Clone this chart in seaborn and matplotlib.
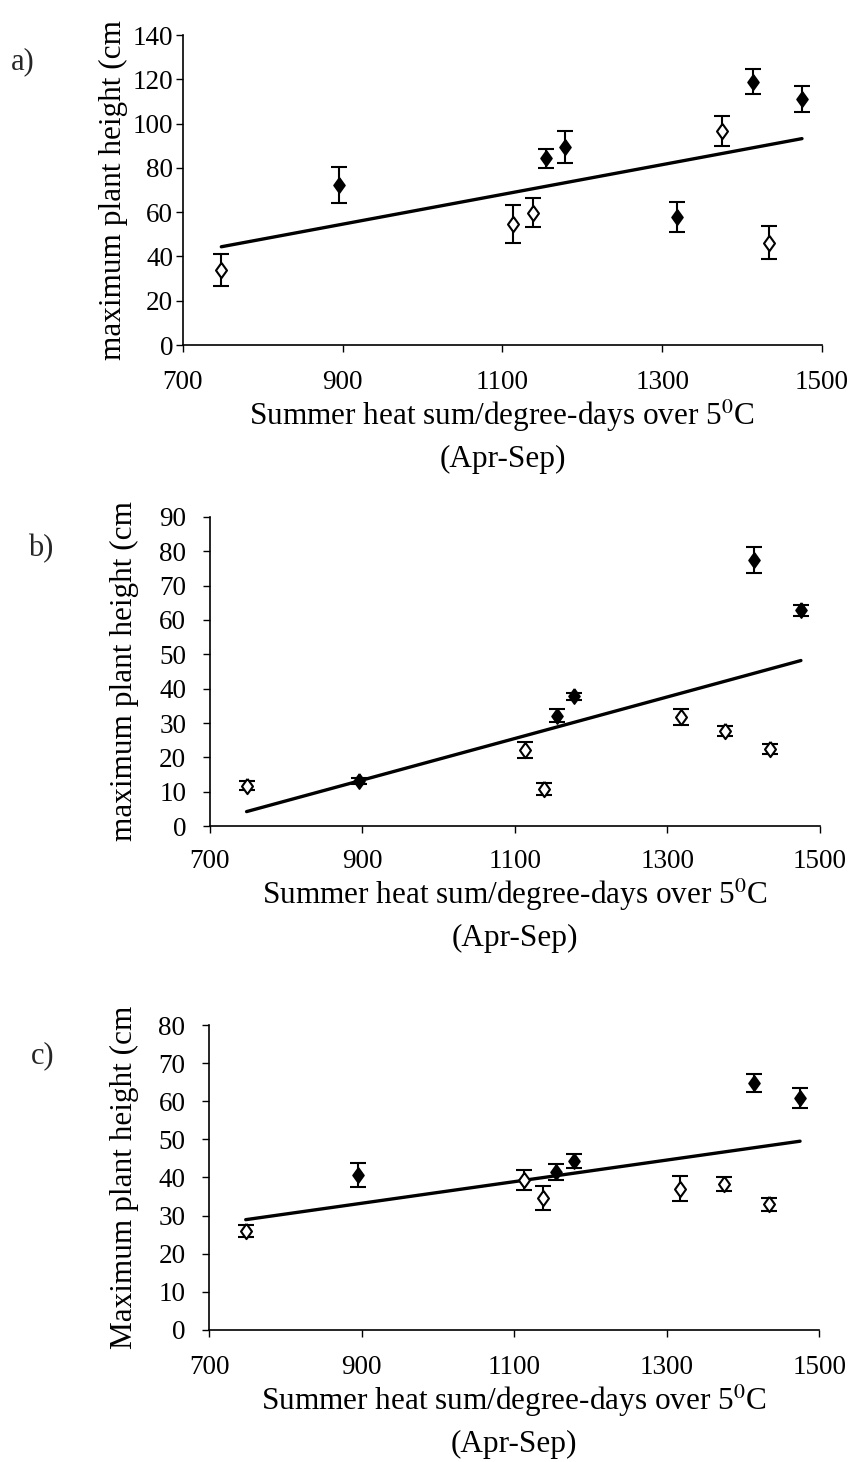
import numpy as np
import pandas as pd
import matplotlib
matplotlib.use("Agg")
import matplotlib.pyplot as plt
import seaborn as sns

# heat sum (degree-days over 5 C, Apr-Sep) of the sites
heat = [748, 895, 1113, 1138, 1155, 1178, 1318, 1375, 1414, 1434, 1475]

# a) maximum plant height (cm), mean and error
a_height = [33.9, 72.3, 54.6, 59.8, 84.3, 89.6, 57.7, 96.8, 118.9, 46.2, 111.1]
a_err = [7.2, 8.0, 8.7, 6.5, 4.4, 7.3, 6.8, 6.8, 5.7, 7.5, 5.8]
a_filled = [0, 1, 0, 0, 1, 1, 1, 0, 1, 0, 1]

# b)
b_height = [11.7, 13.1, 22.1, 10.7, 32.1, 37.8, 31.8, 27.7, 77.5, 22.4, 62.8]
b_err = [1.3, 0.8, 2.4, 1.8, 1.9, 1.0, 2.3, 1.5, 3.7, 1.4, 1.6]
b_filled = [0, 1, 0, 0, 1, 1, 0, 0, 1, 0, 1]

# c)
c_height = [26.0, 40.6, 39.3, 34.7, 41.4, 44.3, 37.1, 38.2, 64.8, 33.0, 60.9]
c_err = [1.5, 3.1, 2.7, 3.2, 2.1, 1.9, 3.3, 1.8, 2.3, 1.7, 2.6]
c_filled = [0, 1, 0, 0, 1, 1, 0, 0, 1, 0, 1]

sns.set_theme(style="ticks")
plt.rcParams["font.family"] = ["Liberation Serif", "DejaVu Serif"]
plt.rcParams["mathtext.fontset"] = "stix"

# excel-like diamond, a bit taller than wide
diamond = [(0, 1), (0.72, 0), (0, -1), (-0.72, 0), (0, 1)]

fig = plt.figure(figsize=(8.57, 14.62), dpi=100)

# letter, data, y range, y label, axes box, letter pos, x pad, y pad, ylabel x
panels = [
    ("a)", a_height, a_err, a_filled, 140, 20, "maximum plant height (cm",
     [0.2135, 0.764, 0.7456, 0.212], (0.026, 0.958), 12.7, 2, -0.086),
    ("b)", b_height, b_err, b_filled, 90, 10, "maximum plant height (cm",
     [0.245, 0.435, 0.7118, 0.2114], (0.048, 0.625), 11.2, 12, -0.116),
    ("c)", c_height, c_err, c_filled, 80, 10, "Maximum plant height (cm",
     [0.244, 0.0903, 0.7118, 0.2086], (0.050, 0.278), 12.7, 12, -0.115),
]

for letter, h, err, filled, ymax, ystep, ylab, pos, lpos, xpad, ypad, ylx in panels:
    ax = fig.add_axes(pos)
    df = pd.DataFrame({"heat": heat, "height": h, "err": err, "filled": filled})

    sns.regplot(data=df, x="heat", y="height", ax=ax, scatter=False, ci=None,
                color="black", line_kws={"lw": 2.4, "zorder": 2})
    ax.errorbar(df["heat"], df["height"], yerr=df["err"], fmt="none",
                ecolor="black", elinewidth=1.5, capsize=6, capthick=1.5, zorder=3)
    sns.scatterplot(data=df[df["filled"] == 1], x="heat", y="height", ax=ax,
                    marker=diamond, s=120, color="black", edgecolor="black",
                    linewidth=1.2, zorder=4)
    sns.scatterplot(data=df[df["filled"] == 0], x="heat", y="height", ax=ax,
                    marker=diamond, s=120, color="white", edgecolor="black",
                    linewidth=1.5, zorder=4)

    ax.set_xlim(700, 1500)
    ax.set_ylim(0, ymax)
    ax.set_xticks(np.arange(700, 1501, 200))
    ax.set_yticks(np.arange(0, ymax + 1, ystep))
    ax.tick_params(axis="both", direction="out", length=5, width=1,
                   colors="black", labelsize=19.5)
    ax.tick_params(axis="x", pad=xpad)
    ax.tick_params(axis="y", pad=ypad)
    sns.despine(ax=ax)
    for s in ["left", "bottom"]:
        ax.spines[s].set_color("black")
        ax.spines[s].set_linewidth(1.2)

    ax.set_xlabel("Summer heat sum/degree-days over 5$^{0}$C\n(Apr-Sep)",
                  fontsize=22.5, linespacing=1.5, color="black", labelpad=2)
    ax.set_ylabel(ylab, fontsize=22.5, color="black")
    ax.yaxis.set_label_coords(ylx, 0.5)
    fig.text(lpos[0], lpos[1], letter, fontsize=22, ha="center", va="center")

fig.savefig("out.png", dpi=100)
